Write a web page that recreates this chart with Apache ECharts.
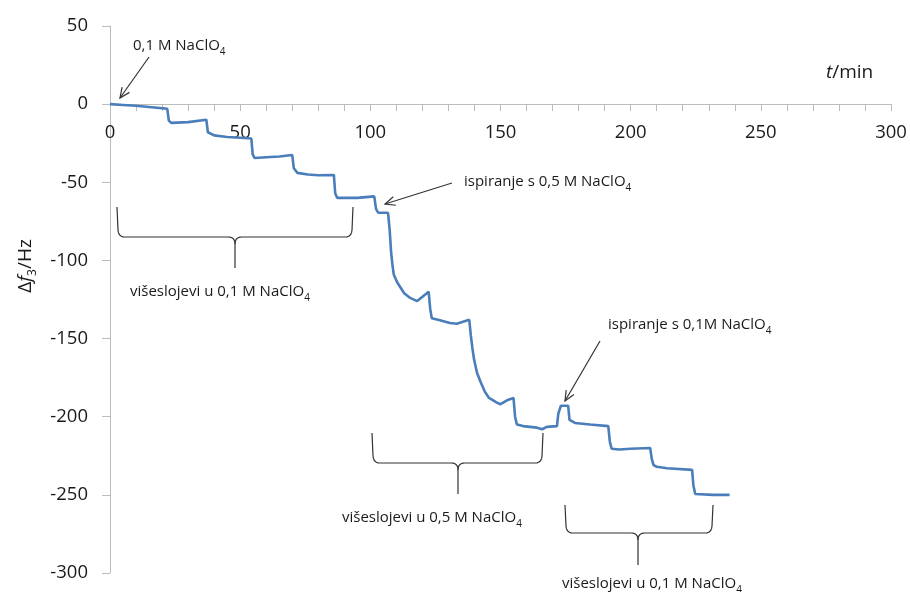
<!DOCTYPE html>
<html>
<head>
<meta charset="utf-8">
<script src="https://cdn.jsdelivr.net/npm/echarts@6/dist/echarts.min.js"></script>
<style>
  html, body { margin: 0; padding: 0; background: #ffffff; }
  #chart { width: 910px; height: 592px; }
</style>
</head>
<body>
<div id="chart"></div>
<script>
// ---- data ----
const timeMin = [
  0, 5, 10, 15, 22,
  22.6, 23.5, 30, 37,
  37.6, 40, 45, 50, 54.3,
  54.8, 55.5, 60, 65, 70,
  70.6, 72, 76, 80, 86,
  86.5, 87.3, 90, 95, 101.5,
  102.2, 103, 106.8,
  107.4, 108, 108.5, 109, 110.3, 113, 115.3, 118, 122.4,
  123, 123.6, 126, 130.6, 133.2, 138,
  138.6, 139.2, 139.8, 141, 142.4, 144, 145.6, 148.6, 150, 152.5, 155,
  155.6, 156.3, 158.7, 164, 166,
  167.8, 171.7, 172.2, 173.2, 176,
  176.5, 178.6, 184.4, 191.4,
  192, 192.7, 195.6, 200, 207.5,
  208.1, 208.8, 210, 214, 223.6,
  224.1, 224.8, 231.7, 238
];
const shiftHz = [
  0, -0.5, -1, -1.8, -3,
  -10.5, -12, -11.5, -10,
  -18, -20, -21, -21.5, -22,
  -32, -34.5, -34, -33.5, -32.5,
  -41, -44, -45, -45.5, -45.3,
  -57, -60, -60, -60, -59,
  -67, -69.5, -69.5,
  -80, -95, -103, -109, -114, -121, -124, -126, -120,
  -131, -137, -138, -140, -140.5, -138,
  -148, -156, -163, -172, -178, -184, -188, -191, -192, -189.5, -188,
  -200, -205, -206, -207, -208,
  -206.5, -206, -198, -193, -193,
  -202, -204, -205, -206,
  -216, -220.5, -221, -220.5, -220,
  -227, -231, -232, -233, -234,
  -244, -249.5, -250, -250
];

// axis ranges and tick labels
const xMin = 0, xMax = 300, xStep = 50;
const yMin = -300, yMax = 50, yStep = 50;

const seriesData = timeMin.map((t, i) => [t, shiftHz[i]]);

const FONT = '"Open Sans", "Liberation Sans", sans-serif';
const TXT = '#1a1a1a';
const AX = '#bdbdbd';
const ANN = '#333333';

// layout
const W = 910, H = 592;
const GL = 110, GR = 19, GT = 26, GB = 19;
const plotH = H - GT - GB;
const zeroOffset = plotH * (yMax - 0) / (yMax - yMin); // pixel distance from top of grid to the zero line

const chart = echarts.init(document.getElementById('chart'), null, { renderer: 'canvas' });

// helpers for annotation drawing
function arrow(x1, y1, x2, y2) {
  const ang = Math.atan2(y2 - y1, x2 - x1);
  const len = 11, spread = 0.42;
  const a1 = ang + Math.PI - spread, a2 = ang + Math.PI + spread;
  const st = { stroke: ANN, lineWidth: 1.2, fill: 'none' };
  return [
    { type: 'line', shape: { x1, y1, x2, y2 }, style: st, silent: true },
    { type: 'polyline', shape: { points: [
      [x2 + len * Math.cos(a1), y2 + len * Math.sin(a1)], [x2, y2],
      [x2 + len * Math.cos(a2), y2 + len * Math.sin(a2)] ] }, style: st, silent: true }
  ];
}
function quad(p0, c, p1, n) {
  const pts = [];
  for (let i = 0; i <= n; i++) {
    const t = i / n, u = 1 - t;
    pts.push([u * u * p0[0] + 2 * u * t * c[0] + t * t * p1[0],
              u * u * p0[1] + 2 * u * t * c[1] + t * t * p1[1]]);
  }
  return pts;
}
function brace(L, R, T, M, B, C) {
  const r = 7;
  const left = [[L, T]]
    .concat(quad([L + 1, M - r], [L + 1.5, M], [L + r + 1, M], 6))
    .concat(quad([C - r, M], [C, M], [C, M + r], 6))
    .concat([[C, B]]);
  const right = [[R, T]]
    .concat(quad([R - 1, M - r], [R - 1.5, M], [R - r - 1, M], 6))
    .concat(quad([C + r, M], [C, M], [C, M + r], 6));
  const st = { stroke: ANN, lineWidth: 1.2, fill: 'none' };
  return [
    { type: 'polyline', shape: { points: left }, style: st, silent: true },
    { type: 'polyline', shape: { points: right }, style: st, silent: true }
  ];
}
const subRich = { s: { fontSize: 10, fontFamily: FONT, fill: TXT, lineHeight: 8, verticalAlign: 'bottom' } };
function label(x, y, text, size) {
  return {
    type: 'text', x, y, silent: true,
    style: {
      text, fill: TXT, fontSize: size || 15, fontFamily: FONT,
      lineHeight: 22, textVerticalAlign: 'middle', verticalAlign: 'middle',
      rich: subRich
    }
  };
}

const graphics = [].concat(
  label(133, 46, '0,1 M NaClO{s|4}'),
  arrow(149, 57, 120, 98),
  label(464, 182, 'ispiranje s 0,5 M NaClO{s|4}'),
  arrow(452, 183, 385, 204),
  label(608, 325, 'ispiranje s 0,1M NaClO{s|4}'),
  arrow(600, 341, 565, 401),
  brace(117, 353, 207, 237, 268, 235),
  label(130, 292, 'višeslojevi u 0,1 M NaClO{s|4}'),
  brace(372, 543, 433, 463, 494, 458),
  label(342, 518, 'višeslojevi u 0,5 M NaClO{s|4}'),
  brace(565, 713, 505, 533, 565, 638),
  label(562, 584, 'višeslojevi u 0,1 M NaClO{s|4}'),
  [{
    type: 'text', x: 826, y: 73, silent: true,
    style: {
      text: '{i|t}/min', fill: TXT, fontSize: 19, fontFamily: FONT,
      verticalAlign: 'middle', textVerticalAlign: 'middle',
      rich: { i: { fontStyle: 'italic', fontSize: 19, fontFamily: FONT, fill: TXT } }
    }
  }, {
    type: 'text', x: 26, y: 266, rotation: Math.PI / 2, silent: true,
    style: {
      text: 'Δ{i|f}{s|3}/Hz', fill: TXT, fontSize: 19, fontFamily: FONT, lineHeight: 26,
      align: 'center', textAlign: 'center', verticalAlign: 'middle', textVerticalAlign: 'middle',
      rich: {
        i: { fontStyle: 'italic', fontSize: 19, fontFamily: FONT, fill: TXT, lineHeight: 26 },
        s: { fontSize: 12, fontFamily: FONT, fill: TXT, lineHeight: 12, verticalAlign: 'bottom' }
      }
    }
  }]
);

chart.setOption({
  animation: false,
  backgroundColor: '#ffffff',
  grid: [
    // main plotting grid
    { left: GL, right: GR, top: GT, bottom: GB, containLabel: false, outerBoundsMode: 'none' },
    // helper grid whose bottom edge coincides with the zero line: carries the visible time axis
    { left: GL, right: GR, top: GT, height: zeroOffset, containLabel: false, outerBoundsMode: 'none' }
  ],
  xAxis: [{
    gridIndex: 0, type: 'value', min: xMin, max: xMax, interval: xStep,
    axisLine: { show: false }, axisTick: { show: false }, axisLabel: { show: false },
    splitLine: { show: false }
  }, {
    gridIndex: 1, type: 'value', min: xMin, max: xMax, interval: xStep, position: 'bottom',
    axisLine: { show: true, onZero: false, lineStyle: { color: AX, width: 1 } },
    axisTick: { show: true, length: 7, lineStyle: { color: AX } },
    minorTick: { show: true, splitNumber: 5, length: 7, lineStyle: { color: AX } },
    splitLine: { show: false },
    axisLabel: { margin: 19, color: TXT, fontSize: 18.5, fontFamily: FONT }
  }],
  yAxis: [{
    gridIndex: 0, type: 'value', min: yMin, max: yMax, interval: yStep,
    axisLine: { show: true, onZero: false, lineStyle: { color: AX, width: 1 } },
    axisTick: { show: true, length: 8, lineStyle: { color: AX } },
    splitLine: { show: false },
    axisLabel: { margin: 22, color: TXT, fontSize: 18.5, fontFamily: FONT }
  }, {
    gridIndex: 1, type: 'value', min: 0, max: yMax, show: false,
    axisLine: { show: false }, axisTick: { show: false }, axisLabel: { show: false }, splitLine: { show: false }
  }],
  series: [{
    type: 'line',
    xAxisIndex: 0, yAxisIndex: 0,
    data: seriesData,
    showSymbol: false,
    symbol: 'none',
    smooth: false,
    lineStyle: { color: '#4a7ebb', width: 2.6 },
    z: 3
  }],
  graphic: { elements: graphics }
});
</script>
</body>
</html>
